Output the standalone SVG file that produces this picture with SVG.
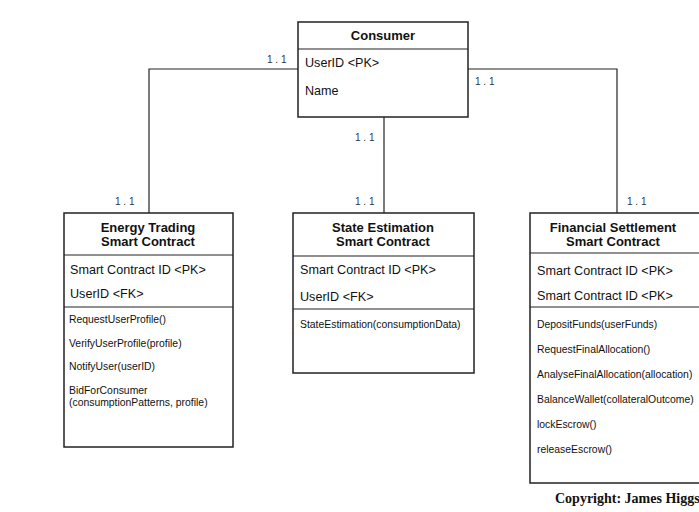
<svg xmlns="http://www.w3.org/2000/svg" width="699" height="512" viewBox="0 0 699 512">
  <style>
    .box { fill: #ffffff; stroke: #222222; stroke-width: 1.5; }
    .div { stroke: #222222; stroke-width: 1.2; }
    .conn { fill: none; stroke: #222222; stroke-width: 1.2; }
    .title { font-family: "Liberation Sans", Arial, sans-serif; font-size: 13px; font-weight: bold; fill: #111111; text-anchor: middle; }
    .attr { font-family: "Liberation Sans", Arial, sans-serif; font-size: 12.6px; fill: #111111; }
    .meth { font-family: "Liberation Sans", Arial, sans-serif; font-size: 10.4px; fill: #111111; }
    .card { font-family: "Liberation Sans", Arial, sans-serif; font-size: 10px; fill: #333333; }
    .copy { font-family: "Liberation Serif", "Times New Roman", serif; font-size: 14px; font-weight: bold; fill: #111111; }
  </style>
  <rect width="699" height="512" fill="#ffffff"/>

  <!-- relationships -->
  <g id="connectors">
    <polyline class="conn" points="298,69 149,69 149,213"/>
    <polyline class="conn" points="468,69 617,69 617,213"/>
    <line class="conn" x1="384" y1="117" x2="384" y2="213"/>
    <text class="card" x="267" y="63">1 . 1</text>
    <text class="card" x="475" y="85">1 . 1</text>
    <text class="card" x="355" y="141">1 . 1</text>
    <text class="card" x="115" y="205">1 . 1</text>
    <text class="card" x="355" y="205">1 . 1</text>
    <text class="card" x="627" y="205">1 . 1</text>
  </g>

  <g id="consumer">
    <rect class="box" x="298" y="22" width="170" height="95"/>
    <line class="div" x1="298" y1="49" x2="468" y2="49"/>
    <text class="title" x="383" y="40">Consumer</text>
    <text class="attr" x="305" y="67">UserID &lt;PK&gt;</text>
    <text class="attr" x="305" y="95">Name</text>
  </g>

  <g id="energy-trading">
    <rect class="box" x="64" y="213" width="169" height="234"/>
    <line class="div" x1="64" y1="255" x2="233" y2="255"/>
    <line class="div" x1="64" y1="307" x2="233" y2="307"/>
    <text class="title" x="148" y="232">Energy Trading</text>
    <text class="title" x="148" y="246">Smart Contract</text>
    <text class="attr" x="70" y="274">Smart Contract ID &lt;PK&gt;</text>
    <text class="attr" x="70" y="298">UserID &lt;FK&gt;</text>
    <text class="meth" x="69" y="323">RequestUserProfile()</text>
    <text class="meth" x="69" y="347">VerifyUserProfile(profile)</text>
    <text class="meth" x="69" y="370">NotifyUser(userID)</text>
    <text class="meth" x="69" y="394">BidForConsumer</text>
    <text class="meth" x="69" y="406">(consumptionPatterns, profile)</text>
  </g>

  <g id="state-estimation">
    <rect class="box" x="293" y="213" width="181" height="160"/>
    <line class="div" x1="293" y1="256" x2="474" y2="256"/>
    <line class="div" x1="293" y1="309" x2="474" y2="309"/>
    <text class="title" x="383" y="232">State Estimation</text>
    <text class="title" x="383" y="246">Smart Contract</text>
    <text class="attr" x="300" y="274">Smart Contract ID &lt;PK&gt;</text>
    <text class="attr" x="300" y="301">UserID &lt;FK&gt;</text>
    <text class="meth" x="300" y="328">StateEstimation(consumptionData)</text>
  </g>

  <g id="financial-settlement">
    <rect class="box" x="530" y="213" width="172" height="270"/>
    <line class="div" x1="530" y1="253" x2="702" y2="253"/>
    <line class="div" x1="530" y1="307" x2="702" y2="307"/>
    <text class="title" x="613" y="232">Financial Settlement</text>
    <text class="title" x="613" y="246">Smart Contract</text>
    <text class="attr" x="537" y="275">Smart Contract ID &lt;PK&gt;</text>
    <text class="attr" x="537" y="300">Smart Contract ID &lt;PK&gt;</text>
    <text class="meth" x="537" y="328">DepositFunds(userFunds)</text>
    <text class="meth" x="537" y="353">RequestFinalAllocation()</text>
    <text class="meth" x="537" y="378">AnalyseFinalAllocation(allocation)</text>
    <text class="meth" x="537" y="403">BalanceWallet(collateralOutcome)</text>
    <text class="meth" x="537" y="428">lockEscrow()</text>
    <text class="meth" x="537" y="453">releaseEscrow()</text>
  </g>

  <text class="copy" x="555" y="503">Copyright: James Higgs</text>
</svg>
